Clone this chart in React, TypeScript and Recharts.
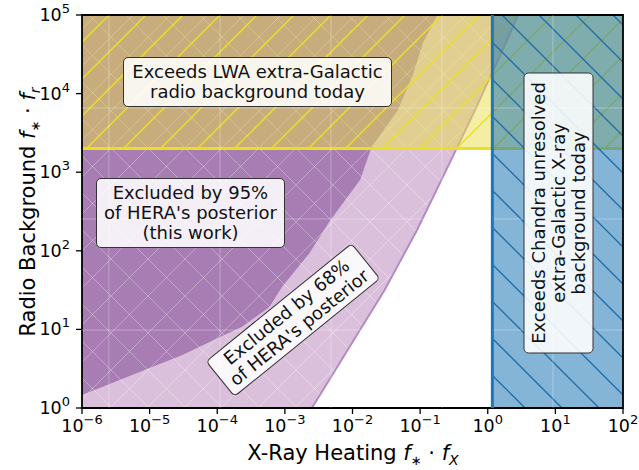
import React from 'react';
import { ComposedChart, Area, XAxis, YAxis, ReferenceLine, ReferenceArea } from 'recharts';

const xTicks = [1e-6, 1e-5, 1e-4, 1e-3, 1e-2, 1e-1, 1e0, 1e1, 1e2];
const yTicks = [1e0, 1e1, 1e2, 1e3, 1e4, 1e5];

// lower edge of the region excluded by 68% of the posterior
const hera68X = [1e-6, 2.5e-3, 3.3e-3, 0.03, 0.09, 0.155, 0.35, 0.65, 1.08, 1.8, 2.8];
const hera68Y = [1, 1, 1.46, 32, 184, 480, 2040, 6200, 16200, 42000, 1e5];

// lower edge of the region excluded by 95% (this work)
const hera95X = [1e-6, 9.8e-6, 3.0e-5, 1.1e-4, 2.3e-4, 5.9e-4, 9.1e-4, 2.3e-3, 4.7e-3, 0.013, 0.019, 0.047, 0.076, 0.11, 0.18];
const hera95Y = [1.46, 3.2, 4.7, 8.0, 10.7, 19.3, 35, 93, 245, 800, 2040, 6200, 16200, 44000, 1e5];

// LWA radio background limit
const lwaX = [1e-6, 1e2];
const lwaY = [2000, 2000];

// Chandra unresolved X-ray background limit
const chandraX = [1.17, 1e2];
const chandraY = [1, 1];

// faint background grid
const gridX = [2.5e-6, 1.1e-4, 4.8e-3, 0.21, 9.2];
const gridY = [6560, 254, 9.8];

type Row = { x: number; h68?: number; h95?: number; lwa?: number; chandra?: number };
const rows: Row[] = [];
const addSeries = (xs: number[], ys: number[], key: keyof Row) =>
  xs.forEach((x, i) => rows.push({ x, [key]: ys[i] } as Row));
addSeries(hera68X, hera68Y, 'h68');
addSeries(hera95X, hera95Y, 'h95');
addSeries(lwaX, lwaY, 'lwa');
addSeries(chandraX, chandraY, 'chandra');
rows.sort((a, b) => a.x - b.x);

const FONT = '"DejaVu Sans", sans-serif';
const HATCH = 37;

const expLabel = (v: number) => {
  const e = Math.round(Math.log10(v));
  return e < 0 ? '\u2212' + Math.abs(e) : String(e);
};

const XTick = (props: any) => {
  const { x, y, payload } = props;
  return (
    <text x={x} y={y + 16} textAnchor="middle" fontSize={17.5} fill="#000" fontFamily={FONT}>
      <tspan>10</tspan>
      <tspan dy={-8} fontSize={13}>{expLabel(payload.value)}</tspan>
    </text>
  );
};

const YTick = (props: any) => {
  const { x, y, payload } = props;
  return (
    <text x={x - 4} y={y + 6} textAnchor="end" fontSize={17.5} fill="#000" fontFamily={FONT}>
      <tspan>10</tspan>
      <tspan dy={-8} fontSize={13}>{expLabel(payload.value)}</tspan>
    </text>
  );
};

const boxStyle: React.CSSProperties = {
  position: 'absolute',
  boxSizing: 'border-box',
  display: 'flex',
  alignItems: 'center',
  justifyContent: 'center',
  textAlign: 'center',
  background: 'rgba(255,255,255,0.88)',
  border: '1.3px solid #333',
  borderRadius: 5,
  fontSize: 18,
  lineHeight: 1.13,
  color: '#111',
  whiteSpace: 'nowrap',
};

export default function App() {
  return (
    <div style={{ position: 'absolute', left: 0, top: 0, width: 639, height: 470, background: '#fff', fontFamily: FONT }}>
      <ComposedChart width={639} height={470} data={rows} margin={{ top: 15, right: 16, bottom: 0, left: 0 }}>
        <defs>
          <pattern id="p68" patternUnits="userSpaceOnUse" width={HATCH} height={HATCH}>
            <rect width={HATCH} height={HATCH} fill="#dbc0dc" />
            <path d="M0,0 L37,37 M37,0 L0,37" stroke="#fff" strokeOpacity={0.35} strokeWidth={1} />
          </pattern>
          <pattern id="p95" patternUnits="userSpaceOnUse" width={HATCH} height={HATCH}>
            <rect width={HATCH} height={HATCH} fill="#a77db3" />
            <path d="M0,0 L37,37 M37,0 L0,37" stroke="#fff" strokeOpacity={0.32} strokeWidth={1} />
          </pattern>
          <pattern id="plwa" patternUnits="userSpaceOnUse" x={13} width={HATCH} height={HATCH}>
            <rect width={HATCH} height={HATCH} fill="#e8de48" fillOpacity={0.5} />
            <path d="M0,37 L37,0 M-5,5 L5,-5 M32,42 L42,32" stroke="#ebdf26" strokeWidth={1.5} />
          </pattern>
          <pattern id="pchandra" patternUnits="userSpaceOnUse" x={6} width={HATCH} height={HATCH}>
            <rect width={HATCH} height={HATCH} fill="#1f77b4" fillOpacity={0.55} />
            <path d="M0,0 L37,37 M-5,32 L5,42 M32,-5 L42,5" stroke="#1c6aa6" strokeWidth={1.3} />
          </pattern>
        </defs>
        <XAxis
          dataKey="x"
          type="number"
          scale="log"
          domain={[1e-6, 1e2]}
          allowDataOverflow
          ticks={xTicks}
          interval={0}
          height={62}
          tickSize={6}
          axisLine={false}
          tickLine={{ stroke: '#000', strokeWidth: 1.3 }}
          tick={(p: any) => <XTick {...p} />}
        />
        <YAxis
          type="number"
          scale="log"
          domain={[1, 1e5]}
          allowDataOverflow
          ticks={yTicks}
          interval={0}
          width={82}
          tickSize={6}
          axisLine={false}
          tickLine={{ stroke: '#000', strokeWidth: 1.3 }}
          tick={(p: any) => <YTick {...p} />}
        />
        <Area dataKey="h68" type="linear" baseValue={1e5} connectNulls isAnimationActive={false}
          fill="url(#p68)" fillOpacity={1} stroke="#b68bc4" strokeWidth={2} dot={false} activeDot={false} />
        <Area dataKey="h95" type="linear" baseValue={1e5} connectNulls isAnimationActive={false}
          fill="url(#p95)" fillOpacity={1} stroke="none" dot={false} activeDot={false} />
        {gridX.map((g) => (
          <ReferenceLine key={'gx' + g} x={g} stroke="#fff" strokeOpacity={0.3} strokeWidth={1} />
        ))}
        {gridY.map((g) => (
          <ReferenceLine key={'gy' + g} y={g} stroke="#fff" strokeOpacity={0.3} strokeWidth={1} />
        ))}
        <Area dataKey="lwa" type="linear" baseValue={1e5} connectNulls isAnimationActive={false}
          fill="url(#plwa)" fillOpacity={1} stroke="#ebdf26" strokeWidth={3} dot={false} activeDot={false} />
        <Area dataKey="chandra" type="linear" baseValue={1e5} connectNulls isAnimationActive={false}
          fill="url(#pchandra)" fillOpacity={1} stroke="none" dot={false} activeDot={false} />
        <ReferenceLine x={chandraX[0]} stroke="#1f77b4" strokeWidth={3} />
        <ReferenceArea x1={1e-6} x2={1e2} y1={1} y2={1e5} fill="none" stroke="#000" strokeWidth={1.8} />
      </ComposedChart>

      <div style={{ ...boxStyle, left: 123, top: 57, width: 269, height: 50 }}>
        Exceeds LWA extra-Galactic
        <br />
        radio background today
      </div>
      <div style={{ ...boxStyle, left: 96, top: 178, width: 189, height: 70 }}>
        Excluded by 95%
        <br />
        of HERA's posterior
        <br />
        (this work)
      </div>
      <div style={{ ...boxStyle, left: 199.3, top: 297.4, width: 188, height: 46, transform: 'rotate(-39deg)' }}>
        Excluded by 68%
        <br />
        of HERA's posterior
      </div>
      <div style={{ ...boxStyle, left: 417.5, top: 177.5, width: 281, height: 70, transform: 'rotate(-90deg)' }}>
        Exceeds Chandra unresolved
        <br />
        extra-Galactic X-ray
        <br />
        background today
      </div>

      <div style={{ position: 'absolute', left: 153, top: 443, width: 400, textAlign: 'center', fontSize: 21, lineHeight: 1, whiteSpace: 'nowrap' }}>
        X-Ray Heating <i>f</i><sub style={{ fontSize: 13 }}>∗</sub> · <i>f</i><sub style={{ fontSize: 14 }}><i>X</i></sub>
      </div>
      <div style={{ position: 'absolute', left: -172.3, top: 199.5, width: 400, height: 24, lineHeight: '24px', textAlign: 'center', fontSize: 21, whiteSpace: 'nowrap', transform: 'rotate(-90deg)' }}>
        Radio Background <i>f</i><sub style={{ fontSize: 13, lineHeight: 0 }}>∗</sub> · <i>f</i><sub style={{ fontSize: 14, lineHeight: 0 }}><i>r</i></sub>
      </div>
    </div>
  );
}
